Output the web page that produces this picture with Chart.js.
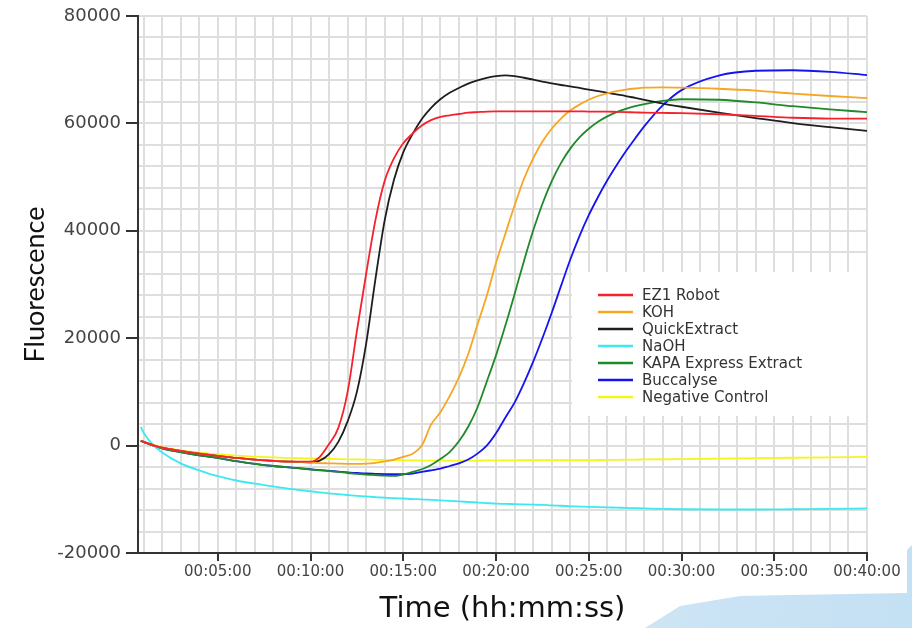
<!DOCTYPE html>
<html>
<head>
<meta charset="utf-8">
<script src="https://cdn.jsdelivr.net/npm/chart.js@4.4.1/dist/chart.umd.min.js"></script>
<style>
    html, body { margin: 0; padding: 0; background: #fff; }
    #wrap { position: relative; width: 912px; height: 628px; overflow: hidden; }
    #swoosh {
        position: absolute; left: 0; top: 0; width: 912px; height: 628px;
        background: linear-gradient(100deg, #e6f2fa, #c4e0f3);
        clip-path: polygon(645px 628px, 680px 606px, 740px 596px, 907px 593px, 907px 550px, 912px 545px, 912px 628px);
    }
    #graphique { position: absolute; left: 0; top: 0; }
</style>
</head>
<body>
<div id="wrap">
    <div id="swoosh"></div>
    <canvas id="graphique" width="912" height="628"></canvas>
</div>
<script>
// time in minutes
const minutes = [0.85, 1, 1.5, 2, 3, 4, 5, 6, 7, 8, 9, 10,
    10.5, 11, 11.5, 12, 12.5, 13, 13.5, 14, 14.5, 15, 15.5, 16, 16.5, 17, 17.5, 18,
    18.5, 19, 19.5, 20, 20.5, 21, 21.5, 22, 22.5, 23, 23.5, 24, 24.5, 25, 25.5, 26,
    26.5, 27, 27.5, 28, 29, 30, 32, 34, 36, 38, 40];

const ez1Robot = [900, 700, 100, -400, -1000, -1500, -1900, -2300, -2600, -2850, -3000, -3000,
    -2100, 300, 3300, 10000, 21300, 32000, 42000, 49300, 53500, 56300, 58100, 59600, 60600, 61200, 61500, 61750,
    62000, 62100, 62200, 62250, 62250, 62250, 62250, 62250, 62250, 62250, 62250, 62250, 62250, 62200, 62200, 62200,
    62150, 62100, 62050, 62000, 61950, 61900, 61700, 61400, 61050, 60900, 60900];

const koh = [900, 700, 100, -400, -1000, -1500, -1900, -2300, -2600, -2850, -3000, -3150,
    -3250, -3300, -3350, -3400, -3400, -3350, -3200, -2950, -2600, -2100, -1500, 0, 3900, 6200, 9200, 12700,
    17000, 22500, 27900, 34000, 39400, 44700, 49600, 53500, 56600, 59000, 60900, 62400, 63500, 64400, 65100, 65600,
    66000, 66300, 66500, 66650, 66700, 66650, 66450, 66100, 65550, 65100, 64700];

const quickExtract = [900, 700, 100, -400, -1000, -1500, -1900, -2300, -2600, -2850, -3000, -3100,
    -2800, -1600, 700, 4500, 10000, 19000, 31000, 42000, 49500, 54600, 58000, 60800, 62900, 64500, 65700, 66600,
    67400, 68000, 68500, 68800, 68950, 68800, 68500, 68150, 67800, 67450, 67150, 66900, 66600, 66300, 66000, 65700,
    65400, 65100, 64750, 64400, 63700, 63100, 62000, 61000, 60050, 59300, 58600];

const naoh = [3500, 2400, 200, -1300, -3300, -4600, -5700, -6500, -7100, -7600, -8100, -8500,
    -8700, -8900, -9050, -9200, -9350, -9450, -9600, -9700, -9800, -9850, -9950, -10000, -10100, -10200, -10300, -10400,
    -10500, -10600, -10700, -10800, -10850, -10900, -10950, -11000, -11050, -11150, -11200, -11300, -11350, -11400, -11450, -11500,
    -11550, -11600, -11650, -11700, -11800, -11850, -11900, -11900, -11850, -11800, -11700];

const kapaExpress = [900, 700, 50, -500, -1200, -1800, -2300, -2900, -3400, -3800, -4100, -4450,
    -4600, -4750, -4900, -5100, -5250, -5400, -5500, -5600, -5650, -5400, -4900, -4400, -3600, -2500, -1200, 800,
    3500, 7100, 11900, 16800, 22300, 28200, 34300, 40000, 45000, 49200, 52600, 55300, 57400, 59000, 60300, 61300,
    62100, 62700, 63200, 63600, 64200, 64500, 64400, 63900, 63200, 62600, 62100];

const buccalyse = [900, 700, 50, -500, -1200, -1800, -2300, -2900, -3400, -3800, -4100, -4400,
    -4550, -4700, -4850, -5000, -5100, -5200, -5250, -5300, -5300, -5300, -5200, -4900, -4600, -4300, -3800, -3300,
    -2600, -1500, 0, 2300, 5200, 8000, 11600, 15600, 20000, 24700, 29700, 34600, 39000, 42900, 46300, 49400,
    52200, 54800, 57200, 59500, 63400, 66200, 68900, 69800, 69900, 69600, 69000];

const negativeControl = [900, 700, 200, -300, -900, -1300, -1600, -1850, -2050, -2200, -2300, -2400,
    -2430, -2450, -2500, -2550, -2580, -2600, -2650, -2680, -2700, -2730, -2750, -2780, -2800, -2800, -2800, -2800,
    -2790, -2780, -2770, -2750, -2750, -2740, -2730, -2730, -2720, -2710, -2700, -2700, -2700, -2700, -2680, -2660,
    -2640, -2620, -2600, -2580, -2540, -2500, -2420, -2340, -2260, -2180, -2100];

const seriesNames = ['EZ1 Robot', 'KOH', 'QuickExtract', 'NaOH', 'KAPA Express Extract', 'Buccalyse', 'Negative Control'];
const seriesValues = [ez1Robot, koh, quickExtract, naoh, kapaExpress, buccalyse, negativeControl];
const seriesColors = ['#f5222d', '#f7a623', '#1e1e1e', '#3ee8f0', '#1f8a2a', '#1414f0', '#f5f51e'];

const yLabelStep = 20000;
const xLabelStep = 5;

function hms(m) {
    const mm = String(m).padStart(2, '0');
    return '00:' + mm + ':00';
}

// legend drawn inside the plot, on a white box
const legendBox = {
    id: 'legendBox',
    afterDraw(chart) {
        const ctx = chart.ctx;
        const area = chart.chartArea;
        const left = area.right - 295;
        const top = 272;
        ctx.save();
        ctx.fillStyle = '#fff';
        ctx.fillRect(left, top, 294, 144);
        ctx.font = '15px "DejaVu Sans"';
        ctx.textBaseline = 'middle';
        chart.data.datasets.forEach((ds, i) => {
            const y = top + 23 + i * 17;
            ctx.strokeStyle = ds.borderColor;
            ctx.lineWidth = 2.5;
            ctx.beginPath();
            ctx.moveTo(left + 26, y);
            ctx.lineTo(left + 61, y);
            ctx.stroke();
            ctx.fillStyle = '#333';
            ctx.fillText(ds.label, left + 70, y + 1);
        });
        ctx.restore();
    }
};

const ctx = document.getElementById('graphique').getContext('2d');
const graphique = new Chart(ctx, {
    type: 'line',
    data: {
        datasets: seriesNames.map((name, i) => ({
            label: name,
            data: minutes.map((m, j) => ({ x: m, y: seriesValues[i][j] })),
            borderColor: seriesColors[i],
            borderWidth: 1.8,
            pointRadius: 0,
            cubicInterpolationMode: 'monotone',
            fill: false
        }))
    },
    options: {
        responsive: false,
        animation: false,
        layout: { padding: { left: 0, right: 45, top: 16, bottom: 0 } },
        plugins: {
            legend: { display: false },
            tooltip: { enabled: false }
        },
        scales: {
            x: {
                type: 'linear',
                min: 0.7,
                max: 40,
                afterBuildTicks: scale => {
                    const t = [];
                    for (let m = 1; m <= 40; m++) t.push({ value: m });
                    scale.ticks = t;
                },
                afterFit: scale => { scale.height = 75; },
                ticks: {
                    autoSkip: false,
                    maxRotation: 0,
                    padding: 2,
                    color: '#444',
                    font: { family: 'DejaVu Sans', size: 15 },
                    callback: v => (v % xLabelStep === 0 ? hms(v) : '')
                },
                grid: {
                    color: '#dedede',
                    lineWidth: 2,
                    tickLength: 8,
                    tickColor: c => (c.tick && c.tick.value % xLabelStep === 0 ? '#333' : 'rgba(0,0,0,0)')
                },
                border: { color: '#333', width: 2 },
                title: {
                    display: true,
                    text: 'Time (hh:mm:ss)',
                    color: '#111',
                    font: { family: 'DejaVu Sans', size: 29 },
                    padding: { top: 0, bottom: 1 }
                }
            },
            y: {
                min: -20000,
                max: 80000,
                afterFit: scale => { scale.width = 138; },
                ticks: {
                    stepSize: 4000,
                    autoSkip: false,
                    padding: 5,
                    color: '#444',
                    font: { family: 'DejaVu Sans', size: 18 },
                    callback: v => (v % yLabelStep === 0 ? String(v) : '')
                },
                grid: {
                    color: '#dedede',
                    lineWidth: 2,
                    tickLength: 12,
                    tickColor: c => (c.tick && c.tick.value % yLabelStep === 0 ? '#333' : 'rgba(0,0,0,0)')
                },
                border: { color: '#333', width: 2 },
                title: {
                    display: true,
                    text: 'Fluorescence',
                    color: '#111',
                    font: { family: 'Lato', size: 27 },
                    padding: { top: 19, bottom: 0 }
                }
            }
        }
    },
    plugins: [legendBox]
});
</script>
</body>
</html>
